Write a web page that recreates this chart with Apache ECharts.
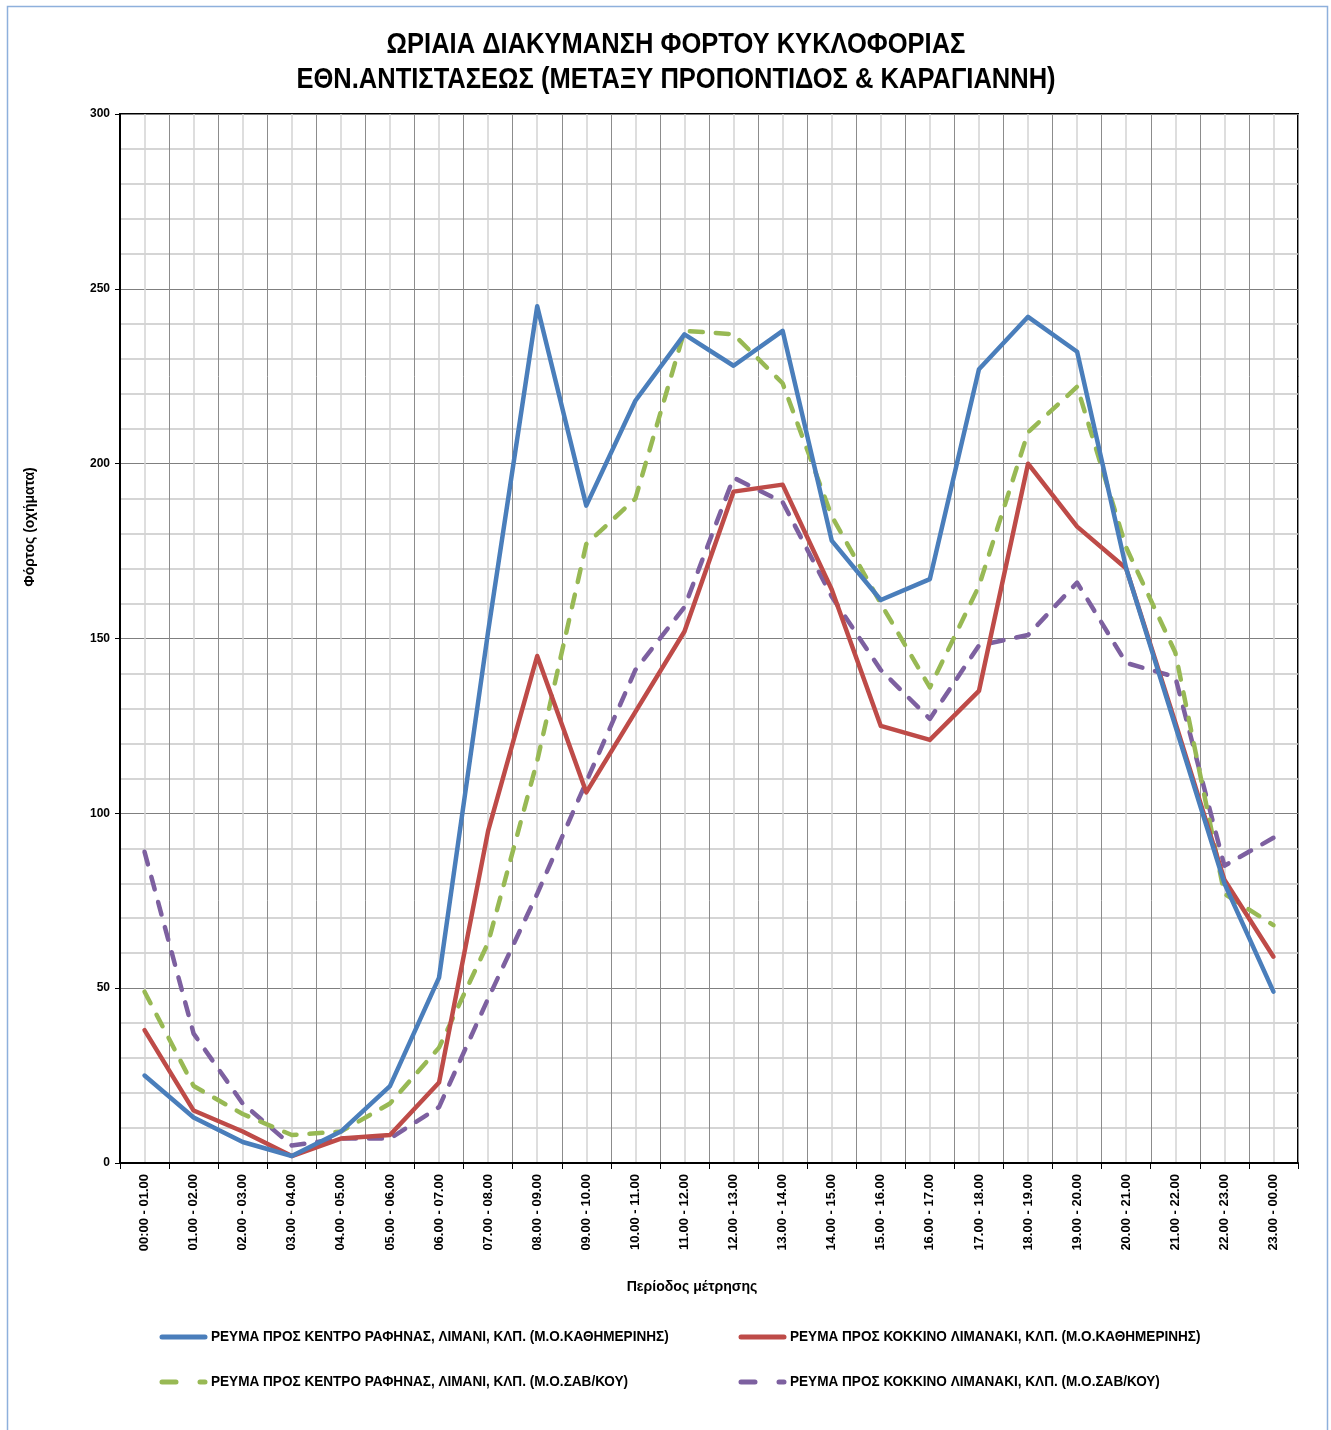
<!DOCTYPE html>
<html>
<head>
<meta charset="utf-8">
<script src="https://cdn.jsdelivr.net/npm/echarts@6/dist/echarts.min.js"></script>
<style>
  html, body { margin: 0; padding: 0; background: #fff; }
  #chart { width: 1331px; height: 1430px; }
</style>
</head>
<body>
<div id="chart"></div>
<script>
const periods = [
  "00:00 - 01.00", "01.00 - 02.00", "02.00 - 03.00", "03.00 - 04.00",
  "04.00 - 05.00", "05.00 - 06.00", "06.00 - 07.00", "07.00 - 08.00",
  "08.00 - 09.00", "09.00 - 10.00", "10.00 - 11.00", "11.00 - 12.00",
  "12.00 - 13.00", "13.00 - 14.00", "14.00 - 15.00", "15.00 - 16.00",
  "16.00 - 17.00", "17.00 - 18.00", "18.00 - 19.00", "19.00 - 20.00",
  "20.00 - 21.00", "21.00 - 22.00", "22.00 - 23.00", "23.00 - 00.00"
];

// weekday averages
const centreWeekday = [25, 13, 6, 2, 9, 22, 53, 152, 245, 188, 218, 237, 228, 238, 178, 161, 167, 227, 242, 232, 170, 125, 80, 49];
const limanakiWeekday = [38, 15, 9, 2, 7, 8, 23, 95, 145, 106, 129, 152, 192, 194, 164, 125, 121, 135, 200, 182, 170, 126, 81, 59];
// weekend averages
const centreWeekend = [49, 22, 14, 8, 9, 17, 33, 63, 115, 177, 190, 238, 237, 223, 185, 160, 136, 165, 209, 222, 176, 146, 77, 68];
const limanakiWeekend = [89, 37, 17, 5, 7, 7, 16, 47, 77, 109, 141, 159, 196, 189, 162, 141, 127, 148, 151, 166, 143, 139, 85, 93];

const seriesNames = [
  "ΡΕΥΜΑ ΠΡΟΣ ΚΕΝΤΡΟ ΡΑΦΗΝΑΣ, ΛΙΜΑΝΙ, ΚΛΠ. (Μ.Ο.ΚΑΘΗΜΕΡΙΝΗΣ)",
  "ΡΕΥΜΑ ΠΡΟΣ ΚΟΚΚΙΝΟ ΛΙΜΑΝΑΚΙ, ΚΛΠ. (Μ.Ο.ΚΑΘΗΜΕΡΙΝΗΣ)",
  "ΡΕΥΜΑ ΠΡΟΣ ΚΕΝΤΡΟ ΡΑΦΗΝΑΣ, ΛΙΜΑΝΙ, ΚΛΠ. (Μ.Ο.ΣΑΒ/ΚΟΥ)",
  "ΡΕΥΜΑ ΠΡΟΣ ΚΟΚΚΙΝΟ ΛΙΜΑΝΑΚΙ, ΚΛΠ. (Μ.Ο.ΣΑΒ/ΚΟΥ)"
];
const seriesData = [centreWeekday, limanakiWeekday, centreWeekend, limanakiWeekend];
const seriesColors = ["#4a7ebb", "#be4b48", "#98b954", "#7d60a0"];
const dashed = [false, false, true, true];

const titleLines = [
  "ΩΡΙΑΙΑ ΔΙΑΚΥΜΑΝΣΗ ΦΟΡΤΟΥ ΚΥΚΛΟΦΟΡΙΑΣ",
  "ΕΘΝ.ΑΝΤΙΣΤΑΣΕΩΣ (ΜΕΤΑΞΥ ΠΡΟΠΟΝΤΙΔΟΣ & ΚΑΡΑΓΙΑΝΝΗ)"
];

const plain = "'Liberation Sans', Arial, sans-serif";

const chart = echarts.init(document.getElementById("chart"), null, { renderer: "canvas" });

// legend is drawn by hand so the narrow Excel lettering can be imitated with scaleX
const legendSpots = [
  { x: 162, y: 1337 },
  { x: 741, y: 1337 },
  { x: 162, y: 1382 },
  { x: 741, y: 1382 }
];

function legendGraphics() {
  const out = [];
  seriesNames.forEach((name, i) => {
    const spot = legendSpots[i];
    out.push({
      type: "line",
      shape: { x1: spot.x, y1: spot.y, x2: spot.x + 43, y2: spot.y },
      style: {
        stroke: seriesColors[i],
        lineWidth: 5,
        lineCap: "round",
        lineDash: dashed[i] ? [14, 24] : null
      },
      silent: true
    });
    out.push({
      type: "text",
      x: spot.x + 49,
      y: spot.y,
      scaleX: 0.905,
      style: {
        text: name,
        font: "bold 15px " + plain,
        fill: "#000",
        textAlign: "left",
        textVerticalAlign: "middle"
      },
      silent: true
    });
  });
  return out;
}

chart.setOption({
  animation: false,
  backgroundColor: "#fff",
  grid: {
    left: 120,
    right: 33,
    top: 114,
    bottom: 267,
    show: true,
    borderColor: "#000",
    borderWidth: 2,
    backgroundColor: "#fff"
  },
  xAxis: [
    {
      type: "category",
      data: periods,
      boundaryGap: true,
      axisLine: { lineStyle: { color: "#000", width: 2 } },
      axisTick: { show: true, length: 6, lineStyle: { color: "#000" } },
      axisLabel: {
        rotate: 90,
        interval: 0,
        margin: 11,
        fontFamily: plain,
        fontWeight: "bold",
        fontSize: 13,
        color: "#000"
      },
      splitLine: { show: false }
    },
    {
      // helper axis: gridlines on category boundaries and centres
      type: "value",
      min: 0,
      max: 24,
      interval: 1,
      axisLine: { show: false },
      axisTick: { show: false },
      axisLabel: { show: false },
      splitLine: { show: true, lineStyle: { color: "#8c8c8c", width: 1 } },
      minorTick: { show: false, splitNumber: 2 },
      minorSplitLine: { show: true, lineStyle: { color: "#d4d4d4", width: 1.5 } }
    }
  ],
  yAxis: {
    type: "value",
    min: 0,
    max: 300,
    interval: 50,
    axisLine: { show: true, lineStyle: { color: "#000", width: 2 } },
    axisTick: { show: true, length: 5, lineStyle: { color: "#000" } },
    axisLabel: { fontFamily: plain, fontWeight: "bold", fontSize: 12, color: "#000", margin: 10 },
    splitLine: { show: true, lineStyle: { color: "#7f7f7f", width: 1 } },
    minorTick: { show: false, splitNumber: 5 },
    minorSplitLine: { show: true, lineStyle: { color: "#c8c8c8", width: 1.5 } }
  },
  graphic: [
    {
      type: "rect",
      shape: { x: 7.5, y: 6.5, width: 1320, height: 1440 },
      style: { fill: "none", stroke: "#8eb0dc", lineWidth: 1.5 },
      silent: true
    },
    {
      type: "text",
      x: 676,
      y: 45,
      scaleX: 0.88,
      style: {
        text: titleLines[0],
        font: "bold 29px " + plain,
        fill: "#000",
        textAlign: "center",
        textVerticalAlign: "middle"
      }
    },
    {
      type: "text",
      x: 676,
      y: 80,
      scaleX: 0.88,
      style: {
        text: titleLines[1],
        font: "bold 29px " + plain,
        fill: "#000",
        textAlign: "center",
        textVerticalAlign: "middle"
      }
    },
    {
      type: "text",
      x: 30,
      y: 527,
      rotation: Math.PI / 2,
      style: {
        text: "Φόρτος (οχήματα)",
        font: "bold 14px " + plain,
        fill: "#000",
        textAlign: "center",
        textVerticalAlign: "middle"
      }
    },
    {
      type: "text",
      x: 692,
      y: 1287,
      scaleX: 0.94,
      style: {
        text: "Περίοδος μέτρησης",
        font: "bold 15px " + plain,
        fill: "#000",
        textAlign: "center",
        textVerticalAlign: "middle"
      }
    }
  ].concat(legendGraphics()),
  series: seriesNames.map((name, i) => ({
    name: name,
    type: "line",
    data: seriesData[i],
    symbol: "none",
    z: 10 - i,
    itemStyle: { color: seriesColors[i] },
    lineStyle: {
      color: seriesColors[i],
      width: 4.5,
      type: dashed[i] ? [13, 13] : "solid",
      cap: "round",
      join: "round"
    }
  }))
});
</script>
</body>
</html>
